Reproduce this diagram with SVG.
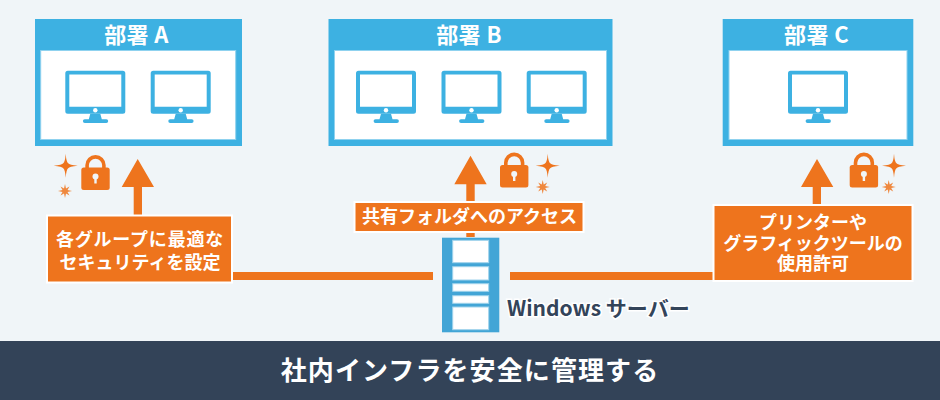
<svg xmlns="http://www.w3.org/2000/svg" width="940" height="400" viewBox="0 0 940 400">
<style>
text{font-family:"Noto Sans CJK JP","Noto Sans",sans-serif;font-weight:700}
.dept{fill:#3db1e2}
.inner{fill:#fff;stroke:#8fd2ef;stroke-width:1}
.head{fill:#fff;font-size:22px;text-anchor:middle;letter-spacing:.4px}
.or{fill:#ee741d}
.lab{fill:#ee741d;stroke:#fff;stroke-width:2}
.lt{fill:#fff;font-size:18px;text-anchor:middle}
</style>
<defs>
<g id="mon">
<path class="dept" fill-rule="evenodd" d="M2.500 0H57.500a2.500 2.500 0 0 1 2.500 2.500V40.500a2.500 2.500 0 0 1-2.500 2.500H2.500a2.500 2.500 0 0 1-2.500-2.500V2.500a2.500 2.500 0 0 1 2.500-2.500ZM4 3.700V36H56V3.700Z"/>
<path class="dept" d="M25 43H35L36.500 48.500H41a1.800 1.800 0 0 1 0 3.800H19.500a1.800 1.800 0 0 1 0-3.800H23.500Z"/>
<circle cx="30" cy="39.500" r="2.200" fill="#fff"/>
</g>
<g id="lock">
<path fill="none" stroke="#ee741d" stroke-width="3.600" d="M5.800 14V10.300a8.400 8.400 0 0 1 16.800 0V14"/>
<rect class="or" x="0" y="12.500" width="28.400" height="22.500" rx="2.500"/>
<circle cx="14.200" cy="21.500" r="3" fill="#f0f5f8"/>
<rect x="13" y="22" width="2.400" height="6.500" fill="#f0f5f8"/>
</g>
<path id="sp1" class="or" d="M0-12Q.6-3.500 2.500-2.500Q3.500-.6 12 0Q3.500 .6 2.500 2.500Q.6 3.500 0 12Q-.6 3.500-2.500 2.500Q-3.500 .6-12 0Q-3.500-.6-2.500-2.500Q-.6-3.500 0-12Z"/>
<path id="sp2" class="or" opacity=".85" d="M0-7L1-2.500 4.500-4.500 2.500-1 7 0 2.500 1 4.500 4.500 1 2.500 0 7-1 2.500-4.500 4.500-2.500 1-7 0-2.500-1-4.500-4.500-1-2.500Z"/>
</defs>
<rect width="940" height="341" fill="#f0f5f8"/>
<g id="connectors">
<rect class="or" x="232" y="272" width="201" height="8"/>
<rect class="or" x="510" y="272" width="203" height="8"/>
<path class="or" d="M137.700 159L154 187H142V216H133.700V187H121.700Z"/>
<path class="or" d="M470.500 155.700L486.700 184.300H474.700V202H466.300V184.300H454.300Z"/>
<rect class="or" x="466.300" y="233" width="8.400" height="4"/>
<path class="or" d="M817 159L833.300 187H821V205H812.700V187H801Z"/>
</g>
<g id="dept-a">
<rect class="dept" x="35" y="19" width="207" height="127"/>
<rect class="inner" x="40.700" y="50.500" width="195" height="89"/>
<text class="head" x="136.500" y="43">部署 A</text>
<use href="#mon" x="65.300" y="70.700"/><use href="#mon" x="150.700" y="70.700"/>
</g>
<g id="dept-b">
<rect class="dept" x="328.500" y="19" width="284" height="127"/>
<rect class="inner" x="334.500" y="50.500" width="272" height="89"/>
<text class="head" x="469" y="43">部署 B</text>
<use href="#mon" x="356" y="70.700"/><use href="#mon" x="441.500" y="70.700"/><use href="#mon" x="526.700" y="70.700"/>
</g>
<g id="dept-c">
<rect class="dept" x="722.700" y="19" width="190.600" height="127"/>
<rect class="inner" x="729" y="50.500" width="178" height="89"/>
<text class="head" x="816.500" y="43">部署 C</text>
<use href="#mon" x="788" y="70.700"/>
</g>
<g id="security-a"><use href="#lock" x="81.300" y="155"/><use href="#sp1" x="65.700" y="165.700"/><use href="#sp2" x="65" y="191"/></g>
<g id="security-b"><use href="#lock" x="500" y="152.500"/><use href="#sp1" x="547.700" y="165.700"/><use href="#sp2" x="542.700" y="187"/></g>
<g id="security-c"><use href="#lock" x="849.700" y="152.500"/><use href="#sp1" x="894" y="165.700"/><use href="#sp2" x="888.700" y="187"/></g>
<g id="label-a">
<rect class="lab" x="47" y="215.500" width="185" height="67"/>
<text class="lt" x="140" y="245.500" letter-spacing=".8">各グループに最適な</text>
<text class="lt" x="140" y="268.500">セキュリティを設定</text>
</g>
<g id="label-b">
<rect class="lab" x="354.500" y="202" width="229" height="30"/>
<text class="lt" x="469.500" y="223">共有フォルダへのアクセス</text>
</g>
<g id="label-c">
<rect class="lab" x="713.500" y="205" width="199" height="76"/>
<text class="lt" x="813" y="228.500">プリンターや</text>
<text class="lt" x="813" y="249.500">グラフィックツールの</text>
<text class="lt" x="813" y="270">使用許可</text>
</g>
<g id="server">
<rect x="442" y="237.700" width="57.300" height="94.600" fill="#42a5d6"/>
<g fill="#fff" stroke="#9fd3ec" stroke-width="1">
<rect x="452.700" y="240.300" width="36" height="22.400"/>
<rect x="452.700" y="266.700" width="36" height="13.300"/>
<rect x="452.700" y="283.700" width="36" height="7.600"/>
<rect x="452.700" y="295.700" width="36" height="7.600"/>
<rect x="452.700" y="307" width="36" height="22.700"/>
</g>
<text x="507" y="316" font-size="21" fill="#33445a" stroke="#fff" stroke-width="3" paint-order="stroke">Windows サーバー</text>
</g>
<g id="footer">
<rect y="341" width="940" height="59" fill="#334358"/>
<text x="470" y="380" font-size="26" fill="#fff" text-anchor="middle" letter-spacing="1.100">社内インフラを安全に管理する</text>
</g>
</svg>
